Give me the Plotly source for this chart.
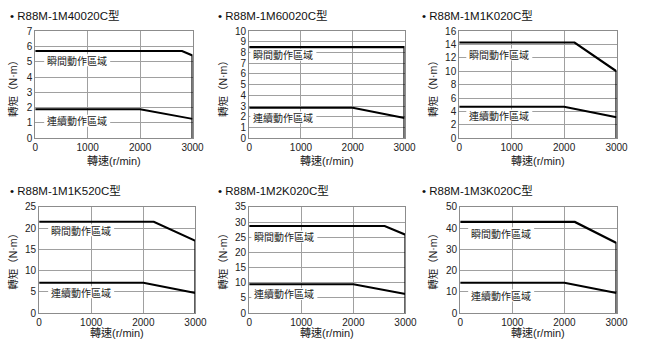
import plotly.graph_objects as go

W, H = 650, 350
FONT = "Liberation Sans, Arial, Noto Sans CJK TC, sans-serif"
CJK = "Noto Sans CJK TC, Noto Sans CJK SC, sans-serif"

titles = ["R88M-1M40020C型", "R88M-1M60020C型", "R88M-1M1K020C型",
          "R88M-1M1K520C型", "R88M-1M2K020C型", "R88M-1M3K020C型"]
ymax = [7, 10, 16, 25, 35, 50]
ydtick = [1, 1, 2, 5, 5, 10]
x_ticks = [0, 1000, 2000, 3000]

inter_speed = [[0, 2800, 3000], [0, 3000], [0, 2200, 3000],
               [0, 2200, 3000], [0, 2600, 3000], [0, 2200, 3000]]
inter_torque = [[5.7, 5.7, 5.4], [8.5, 8.5], [14.3, 14.3, 10.0],
                [21.5, 21.5, 17.0], [28.7, 28.7, 25.8], [42.9, 42.9, 33.0]]
cont_speed = [[0, 2000, 3000]] * 6
cont_torque = [[1.9, 1.9, 1.27], [2.85, 2.85, 1.9], [4.7, 4.7, 3.15],
               [7.15, 7.15, 4.75], [9.5, 9.5, 6.3], [14.3, 14.3, 9.5]]

inter_label = "瞬間動作區域"
cont_label = "連續動作區域"
inter_label_pos = [(800, 5.1), (660, 7.8), (764, 12.5), (806, 19.5), (675, 25.2), (786, 37.6)]
cont_label_pos = [(800, 1.15), (660, 1.95), (764, 3.4), (806, 4.9), (675, 6.3), (786, 8.3)]

# layout in pixels
xdom_px = [(33, 194), (252, 411), (467, 628), (37, 197), (252, 412), (468, 628)]
ydom_px = [(26, 137), (26, 137), (26, 137), (208, 318), (208, 318), (208, 318)]
title_px = [(5, 10), (218, 10), (427, 10), (5, 191), (218, 191), (427, 191)]
ytitle_px = [(10, 83), (225, 83), (440, 83), (10, 262), (225, 262), (440, 262)]
xtitle_y = [161, 161, 161, 339, 339, 339]

fig = go.Figure()
annotations = []
shapes = []
for i in range(6):
    n = "" if i == 0 else str(i + 1)
    xa, ya = "x" + n, "y" + n
    sp = inter_speed[i] + [inter_speed[i][-1]]
    tq = inter_torque[i] + [0]
    fig.add_trace(go.Scatter(x=sp, y=tq, mode="lines", xaxis=xa, yaxis=ya,
                             line=dict(color="black", width=2.2), showlegend=False,
                             hoverinfo="skip"))
    fig.add_trace(go.Scatter(x=cont_speed[i], y=cont_torque[i], mode="lines",
                             xaxis=xa, yaxis=ya,
                             line=dict(color="black", width=2), showlegend=False,
                             hoverinfo="skip"))
    x0, x1 = xdom_px[i]
    y0, y1 = ydom_px[i]
    common = dict(showline=True, mirror=True, linecolor="#8c8c8c", linewidth=1,
                  showgrid=True, gridcolor="#a0a0a0", gridwidth=1, zeroline=False,
                  ticks="", tickfont=dict(family=FONT, size=10, color="#222"),
                  fixedrange=True)
    fig.update_layout(**{
        ("xaxis" + n): dict(domain=[x0 / W, x1 / W], range=[0, 3000], tickvals=x_ticks,
                            anchor=ya, **common),
        ("yaxis" + n): dict(domain=[1 - y1 / H, 1 - y0 / H], range=[0, ymax[i]],
                            dtick=ydtick[i], tick0=0, anchor=xa, **common),
    })
    # region labels: white patch between grid and traces, then text
    for (lx, ly), txt in ((inter_label_pos[i], inter_label), (cont_label_pos[i], cont_label)):
        shapes.append(dict(type="rect", xref=xa, yref=ya, layer="between",
                           xsizemode="pixel", ysizemode="pixel", xanchor=lx, yanchor=ly,
                           x0=-33, x1=33, y0=-6, y1=6,
                           fillcolor="white", line=dict(width=0)))
        annotations.append(dict(x=lx, y=ly, xref=xa, yref=ya, text=txt, showarrow=False,
                                font=dict(family=CJK, size=10, color="#222")))
    # titles
    tx, ty = title_px[i]
    annotations.append(dict(x=tx / W, y=1 - ty / H, xref="paper", yref="paper",
                            xanchor="left", yanchor="middle", showarrow=False,
                            text="• " + titles[i],
                            font=dict(family=FONT, size=11.5, color="#111")))
    yx, yy = ytitle_px[i]
    annotations.append(dict(x=yx / W, y=1 - yy / H, xref="paper", yref="paper",
                            xanchor="center", yanchor="middle", showarrow=False,
                            text="轉矩（N·m）", textangle=-90,
                            font=dict(family=FONT, size=10.5, color="#222")))
    annotations.append(dict(x=(x0 + x1) / 2 / W, y=1 - xtitle_y[i] / H, xref="paper",
                            yref="paper", xanchor="center", yanchor="middle",
                            showarrow=False, text="轉速(r/min)",
                            font=dict(family=FONT, size=11, color="#222")))

fig.update_layout(width=W, height=H, margin=dict(l=0, r=0, t=0, b=0),
                  paper_bgcolor="white", plot_bgcolor="white",
                  annotations=annotations, shapes=shapes, showlegend=False)
fig.write_html("out.html")
